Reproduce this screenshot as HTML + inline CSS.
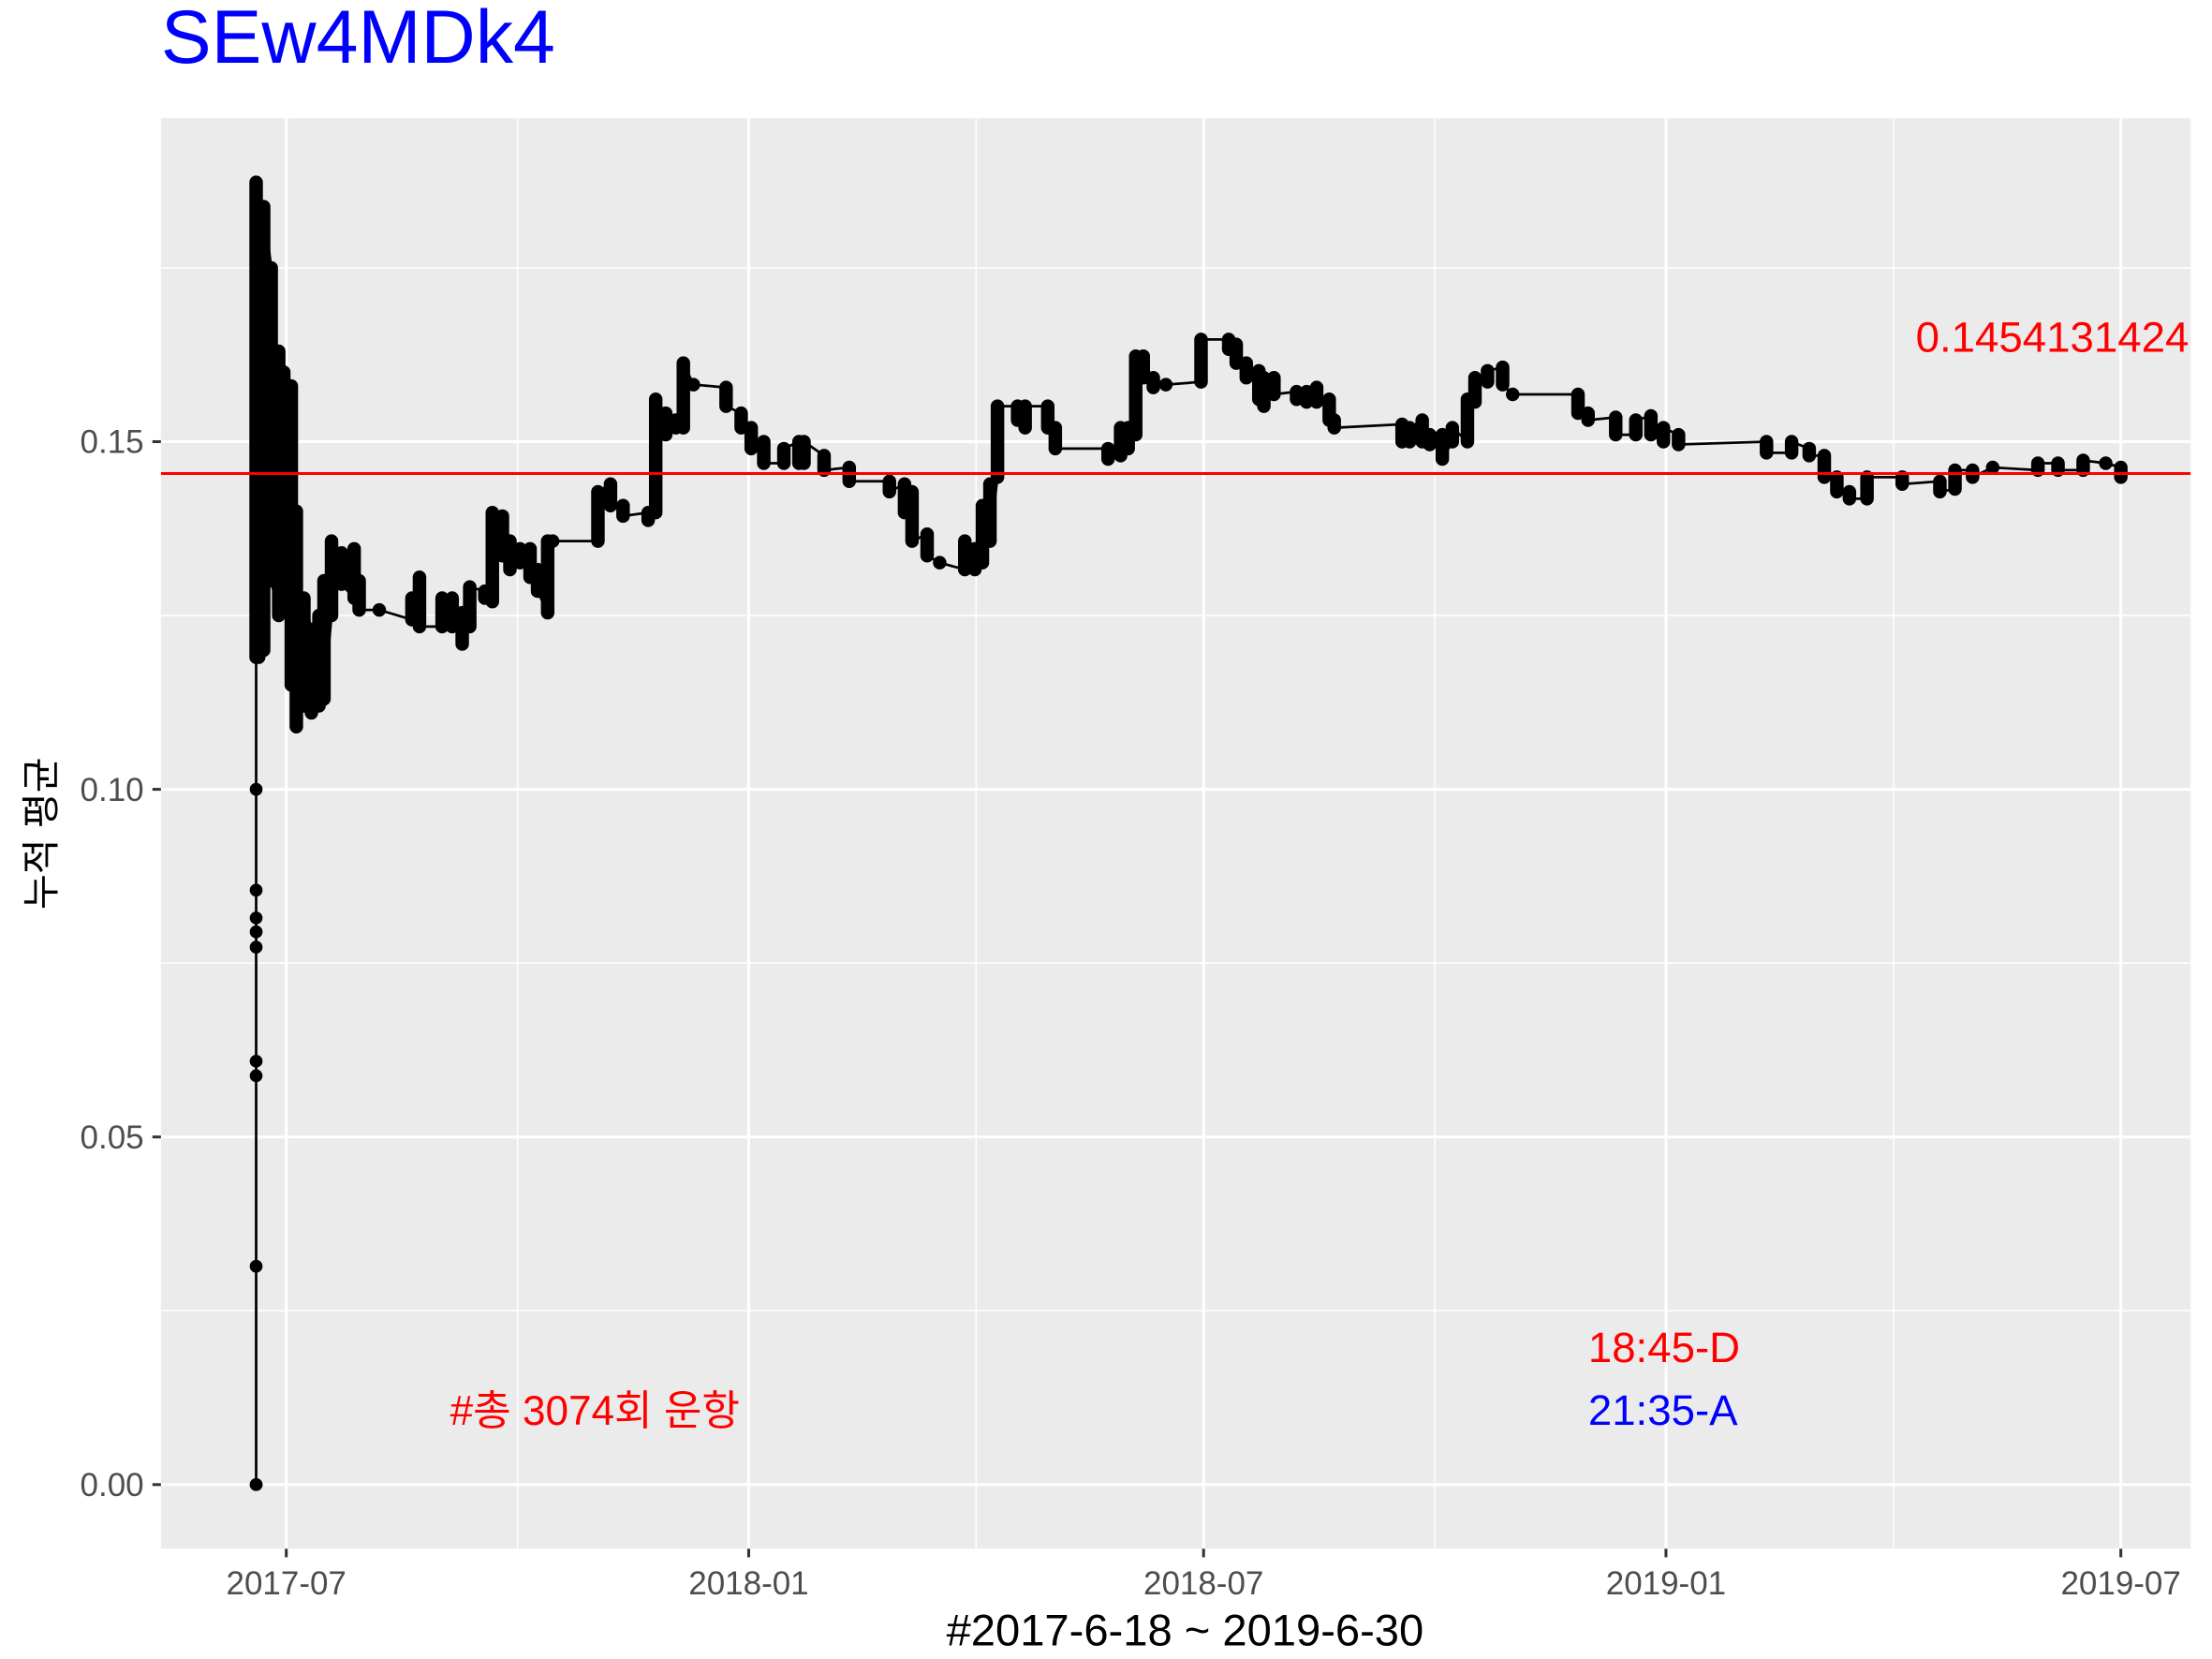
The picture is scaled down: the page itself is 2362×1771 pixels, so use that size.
<!DOCTYPE html>
<html><head><meta charset="utf-8"><style>
html,body{margin:0;padding:0;background:#fff;}
svg{display:block;}
text{font-family:"Liberation Sans","Noto Sans CJK KR","NanumGothic",sans-serif;}
</style></head><body>
<svg id="chart" width="2362" height="1771" viewBox="0 0 1553 1164.4" preserveAspectRatio="none" xmlns="http://www.w3.org/2000/svg">
<defs><clipPath id="pc"><rect x="113" y="83" width="1425" height="1004"/></clipPath></defs>
<text x="113" y="44" font-size="53" fill="#0000ff">SEw4MDk4</text>
<rect x="113" y="83" width="1425" height="1004" fill="#ebebeb"/>
<g id="grid"></g>
<g id="marks" clip-path="url(#pc)"></g>
<g id="axes"></g>
<g clip-path="url(#pc)"><text x="1345" y="247" font-size="30" fill="#ff0000">0.14541314248</text></g>
<text x="1115" y="956" font-size="30" fill="#ff0000">18:45-D</text>
<text x="1115" y="1000" font-size="30" fill="#0000ff">21:35-A</text>
<text x="316" y="1000" font-size="29" fill="#ff0000">#총 3074회 운항</text>
<text transform="translate(38,585) rotate(-90)" text-anchor="middle" font-size="27" fill="#000">누적 평균</text>
<text x="832" y="1155" text-anchor="middle" font-size="31" fill="#000">#2017-6-18 ~ 2019-6-30</text>
</svg>
<script>
// data: day offsets from 2017-07-01, low/high cumulative-mean values per day
const days=[-12,-11,-9,-6,-3,-1,2,4,7,10,13,15,18,22,27,29,37,50,53,62,66,70,73,79,82,86,89,93,97,100,104,106,124,129,134,144,147,151,155,158,162,175,181,185,190,198,204,206,214,224,240,246,249,255,260,270,274,277,280,283,291,294,303,306,327,332,335,338,341,345,350,364,375,378,382,387,389,393,402,406,410,415,417,444,447,452,455,460,464,470,473,478,484,488,514,518,529,537,543,548,554,589,599,606,612,617,622,629,643,658,664,671,679,697,705,715,724,730];
const lowVals=[0.119,0.119,0.12,0.13,0.125,0.1316,0.115,0.109,0.112,0.111,0.112,0.113,0.125,0.1295,0.1275,0.1258,0.1258,0.1244,0.1234,0.1234,0.1234,0.1209,0.1234,0.1275,0.127,0.1336,0.1316,0.1326,0.1305,0.1285,0.1254,0.1357,0.1357,0.1408,0.1393,0.1387,0.1398,0.151,0.152,0.152,0.1582,0.1551,0.152,0.149,0.1469,0.1469,0.1469,0.1469,0.1459,0.1443,0.1428,0.1398,0.1357,0.1336,0.1326,0.1316,0.1316,0.1326,0.1357,0.1449,0.1531,0.152,0.152,0.149,0.1475,0.148,0.149,0.151,0.1592,0.1578,0.1582,0.1586,0.1633,0.1613,0.1592,0.1561,0.1551,0.1568,0.1561,0.1557,0.1557,0.1531,0.152,0.15,0.15,0.15,0.1496,0.1475,0.15,0.15,0.1557,0.1586,0.1582,0.1568,0.1541,0.1531,0.151,0.151,0.151,0.15,0.1496,0.1484,0.1484,0.148,0.1449,0.1428,0.1418,0.1418,0.1439,0.1428,0.1432,0.1449,0.1463,0.1459,0.1459,0.1459,0.1469,0.1449];
const highVals=[0.1873,0.1838,0.1838,0.175,0.163,0.16,0.158,0.14,0.1275,0.123,0.125,0.13,0.1357,0.134,0.1346,0.13,0.1258,0.1275,0.1305,0.1275,0.1275,0.1254,0.1291,0.1285,0.1398,0.1393,0.1357,0.1346,0.1346,0.1316,0.1357,0.1357,0.1428,0.1439,0.1408,0.1398,0.1561,0.1541,0.1531,0.1613,0.1582,0.1578,0.1541,0.152,0.15,0.149,0.15,0.15,0.148,0.1463,0.1443,0.1439,0.1428,0.1367,0.1326,0.1357,0.1346,0.1408,0.1439,0.1551,0.1551,0.1551,0.1551,0.152,0.149,0.152,0.152,0.1623,0.1623,0.1592,0.1582,0.1647,0.1647,0.164,0.1613,0.1602,0.1592,0.1592,0.1572,0.1572,0.1578,0.1561,0.1531,0.1525,0.152,0.1531,0.151,0.151,0.152,0.1561,0.1592,0.1602,0.1607,0.1568,0.1568,0.1541,0.1535,0.1531,0.1537,0.152,0.151,0.15,0.15,0.149,0.148,0.1449,0.1428,0.1449,0.1449,0.1443,0.1459,0.1459,0.1463,0.1469,0.1469,0.1473,0.1469,0.1463];
const earlyDay=-12;
const earlyVals=[0,0,0.0314,0.0588,0.0609,0.0773,0.0795,0.0815,0.0855,0.100];
const meanValue=0.14541314248;
const yTicks=[0,0.05,0.10,0.15];
const yTickLabels=["0.00","0.05","0.10","0.15"];
const xTickDays=[0,184,365,549,730];
const xTickLabels=["2017-07","2018-01","2018-07","2019-01","2019-07"];

const NS="http://www.w3.org/2000/svg";
const xs=d=>201+d*(1288/730);
const ys=v=>1042-v*4880;
function mk(tag,attrs,parent){const e=document.createElementNS(NS,tag);for(const k in attrs)e.setAttribute(k,attrs[k]);parent.appendChild(e);return e;}
const grid=document.getElementById('grid'),marks=document.getElementById('marks'),axes=document.getElementById('axes');
for(let i=0;i<yTicks.length;i++){const v=yTicks[i]+0.025;const l=mk('line',{x1:113,x2:1538,y1:ys(v),y2:ys(v),stroke:'#fff','stroke-width':1},grid);

}
for(let i=0;i<xTickDays.length-1;i++){const d=(xTickDays[i]+xTickDays[i+1])/2;const l=mk('line',{x1:xs(d),x2:xs(d),y1:83,y2:1087,stroke:'#fff','stroke-width':1},grid);

}
for(let i=0;i<yTicks.length;i++){const y=ys(yTicks[i]);
const l=mk('line',{x1:113,x2:1538,y1:y,y2:y,stroke:'#fff','stroke-width':2},grid);


const t=mk('line',{x1:107,x2:113,y1:y,y2:y,stroke:'#333','stroke-width':2},axes);


const tx=mk('text',{x:101,y:y+8,'text-anchor':'end','font-size':23,fill:'#4d4d4d'},axes);tx.textContent=yTickLabels[i];

}
for(let i=0;i<xTickDays.length;i++){const x=xs(xTickDays[i]);
const l=mk('line',{x1:x,x2:x,y1:83,y2:1087,stroke:'#fff','stroke-width':2},grid);


const t=mk('line',{x1:x,x2:x,y1:1087,y2:1093,stroke:'#333','stroke-width':2},axes);


const tx=mk('text',{x:x,y:1119,'text-anchor':'middle','font-size':23,fill:'#4d4d4d'},axes);tx.textContent=xTickLabels[i];

}
let pts=[];for(const v of earlyVals)pts.push([xs(earlyDay),ys(v)]);
let prev=earlyVals[earlyVals.length-1];
for(let i=0;i<days.length;i++){const a=Math.abs(prev-lowVals[i])<=Math.abs(prev-highVals[i]);
const first=a?lowVals[i]:highVals[i],last=a?highVals[i]:lowVals[i];
pts.push([xs(days[i]),ys(first)]);pts.push([xs(days[i]),ys(last)]);prev=last;}
const pl=mk('polyline',{points:pts.map(p=>p.join(',')).join(' '),fill:'none',stroke:'#000','stroke-width':1.8},marks);


for(const v of earlyVals){const c=mk('circle',{cx:xs(earlyDay),cy:ys(v),r:4.5,fill:'#000'},marks);

}
for(let i=0;i<days.length;i++){const x=xs(days[i]);
const s=mk('line',{x1:x,x2:x,y1:ys(lowVals[i]),y2:ys(highVals[i]),stroke:'#000','stroke-width':9.5,'stroke-linecap':'round'},marks);

}
const ml=mk('line',{x1:113,x2:1538,y1:ys(meanValue),y2:ys(meanValue),stroke:'#ff0000','stroke-width':2},marks);


</script>
</body></html>
